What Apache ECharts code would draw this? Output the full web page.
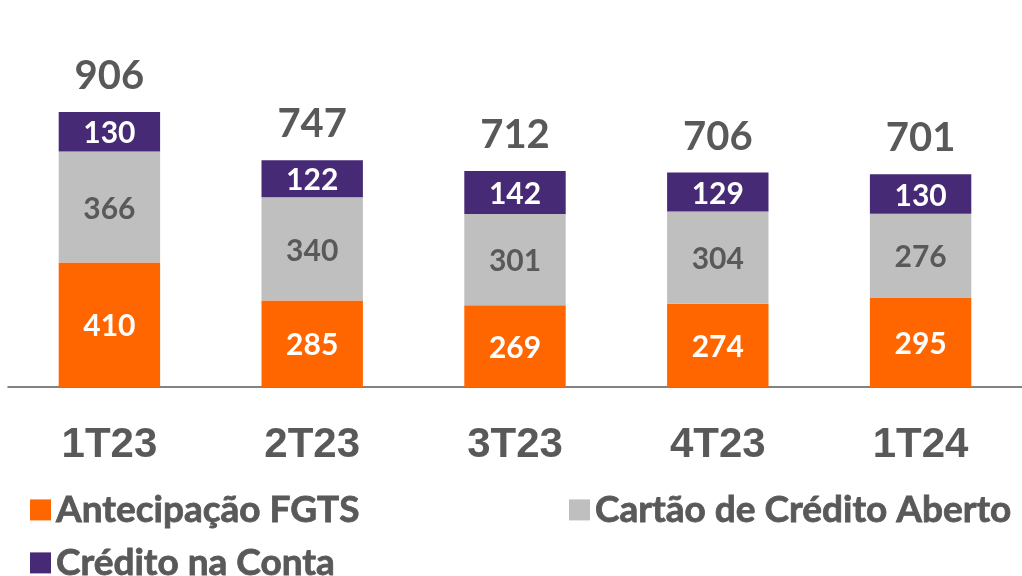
<!DOCTYPE html>
<html>
<head>
<meta charset="utf-8">
<script src="https://cdn.jsdelivr.net/npm/echarts@6/dist/echarts.min.js"></script>
<style>
  html, body { margin: 0; padding: 0; background: #fff; }
  #chart { width: 1022px; height: 576px; }
</style>
</head>
<body>
<div id="chart"></div>
<script>
const quarters = ['1T23', '2T23', '3T23', '4T23', '1T24']
const fgts = [410, 285, 269, 274, 295]
const cartao = [366, 340, 301, 304, 276]
const conta = [130, 122, 142, 129, 130]
const totals = [906, 747, 712, 706, 701]

const textGray = '#595959'
const chart = echarts.init(document.getElementById('chart'))

const segLabel = (color) => ({
  show: true,
  position: 'inside',
  offset: [0, 2],
  color: color,
  fontFamily: 'Lato',
  fontWeight: 'bold',
  fontSize: 30
})

const legendBase = {
  itemWidth: 21,
  itemHeight: 21,
  itemGap: 10,
  icon: 'rect',
  selectedMode: false,
  textStyle: {
    color: textGray,
    fontFamily: 'Lato',
    fontWeight: 'bold',
    fontSize: 37,
    textBorderColor: textGray,
    textBorderWidth: 0.8
  }
}

chart.setOption({
  animation: false,
  grid: { left: 8, width: 1015, top: 83.5, height: 303.5 },
  legend: [
    { ...legendBase, left: 25, top: 486, data: ['Antecipação FGTS'] },
    { ...legendBase, left: 564, top: 486, data: ['Cartão de Crédito Aberto'] },
    { ...legendBase, left: 25, top: 539, data: ['Crédito na Conta'] }
  ],
  xAxis: {
    type: 'category',
    data: quarters,
    axisTick: { show: false },
    axisLine: { lineStyle: { color: '#595959', width: 1.5 } },
    axisLabel: {
      color: textGray,
      fontFamily: 'Liberation Sans',
      fontWeight: 'bold',
      fontSize: 42,
      margin: 37
    }
  },
  yAxis: {
    type: 'value',
    min: 0,
    max: 1000,
    show: false,
    splitLine: { show: false }
  },
  series: [
    {
      name: 'Antecipação FGTS',
      type: 'bar',
      stack: 'total',
      barWidth: '50%',
      data: fgts,
      itemStyle: { color: '#FF6600' },
      label: segLabel('#ffffff')
    },
    {
      name: 'Cartão de Crédito Aberto',
      type: 'bar',
      stack: 'total',
      data: cartao,
      itemStyle: { color: '#BFBFBF' },
      label: segLabel(textGray)
    },
    {
      name: 'Crédito na Conta',
      type: 'bar',
      stack: 'total',
      data: conta,
      itemStyle: { color: '#472A76' },
      label: segLabel('#ffffff')
    },
    {
      name: 'Total',
      type: 'bar',
      barWidth: '50%',
      barGap: '-100%',
      data: totals,
      silent: true,
      itemStyle: { color: 'rgba(0,0,0,0)' },
      label: {
        show: true,
        position: 'top',
        distance: 16,
        color: textGray,
        fontFamily: 'Lato',
        fontWeight: 'bold',
        fontSize: 40
      }
    }
  ]
})
</script>
</body>
</html>
